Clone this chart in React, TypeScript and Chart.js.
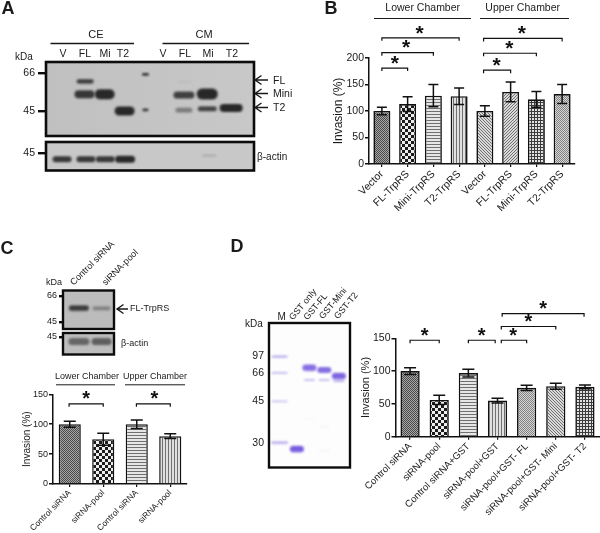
import React, { useEffect, useRef } from "react";
import { Chart, registerables } from "chart.js";

Chart.register(...registerables);

const FONT = '"Liberation Sans", Arial, sans-serif';
const INK = "#1a1a1a";

// ---------- Panel B data ----------
const bCategories = ["Vector", "FL-TrpRS", "Mini-TrpRS", "T2-TrpRS", "Vector", "FL-TrpRS", "Mini-TrpRS", "T2-TrpRS"];
const bValues = [100, 113, 129, 128, 100, 136, 122, 132];
const bErrors = [7, 14, 21, 15.5, 10, 18.5, 15, 18];
const bBrackets = [
  [0, 1, 181, 0.5], [0, 2, 210, 0.94], [0, 3, 238, 1.46],
  [3.95, 5, 177, 4.45], [3.95, 6, 209, 4.95], [3.95, 7, 237, 5.44],
];

// ---------- Panel C data ----------
const cCategories = ["Control siRNA", "siRNA-pool", "Control siRNA", "siRNA-pool"];
const cValues = [100, 75, 100, 80];
const cErrors = [5, 10, 7, 4];
const cBrackets = [[-0.02, 1, 134, 0.49], [1.99, 3, 134, 2.53]];

// ---------- Panel D data ----------
const dCategories = [
  "Control siRNA", "siRNA-pool", "Control siRNA+GST", "siRNA-pool+GST",
  "siRNA-pool+GST- FL", "siRNA-pool+GST- Mini", "siRNA-pool+GST- T2",
];
const dValues = [100, 56, 97, 55, 74.5, 77, 76];
const dErrors = [5, 7, 6, 3.5, 4, 4.5, 3];
const dBrackets = [
  [0, 1, 147, 0.5], [2, 2.92, 147, 2.46], [3.13, 4, 147, 3.54],
  [3.13, 5, 168, 4.06], [3.16, 5.97, 187.5, 4.57],
];

// ---------- Blot A data (lane, kDa, darkness) ----------
const aLanes = [2.03, 2.0, 2.97, 3.93, 4.93, 4.93, 6.8, 6.78, 7.9, 6.78, 7.9, 9.05];
const aKda = [60.6, 53.3, 53.3, 45, 65.1, 45.4, 60.6, 52.9, 53.5, 45.4, 46, 46.4];
const aDark = [0.85, 0.9, 1, 1, 1, 1, 0.06, 0.85, 1, 0.45, 0.82, 1];
const aWide = [17, 20, 20, 20, 7, 6, 14, 21, 21, 17, 19, 23];
const aTall = [4.5, 8, 10, 9, 2.5, 2.5, 2, 7, 11, 5, 5, 8];
const aActinLanes = [0.92, 2.07, 3.0, 3.95, 8.0];
const aActinKda = [42.2, 42.2, 42.2, 42.2, 43.8];
const aActinDark = [0.9, 0.9, 0.9, 1, 0.18];
const aActinWide = [19, 19, 19, 20, 14];
const aActinTall = [6, 6, 6, 7, 2];

// ---------- Blot C data ----------
const cBlotLanes = [1, 2];
const cBlotKda = [55, 55];
const cBlotDark = [0.9, 0.4];
const cBlotWide = [20, 18];
const cBlotTall = [5.5, 4];
const cActinLanes = [1, 2];
const cActinKda = [42.1, 42.1];
const cActinDark = [0.6, 0.65];
const cActinWide = [21, 20];
const cActinTall = [7, 7];

// ---------- Gel D data (lane, migration, darkness) ----------
const gelMarkerLabels = ["97", "66", "45", "30"];
const gelMarkerMigration = [33.6, 50, 78.3, 120];
const gelLanes = [1, 1, 1, 1, 2.16, 3, 3, 4, 4, 4.98, 4.98, 3, 4, 3, 4];
const gelMigration = [33.6, 50, 78.3, 120, 126.3, 45, 57, 47, 57, 53.3, 58, 96, 103.3, 122.6, 127.6];
const gelDark = [0.5, 0.4, 0.3, 0.5, 0.9, 0.8, 0.35, 0.8, 0.35, 0.85, 0.45, 0.05, 0.08, 0.04, 0.1];
const gelWide = [16, 16, 16, 17, 14, 14, 11, 14, 11, 14, 11, 11, 11, 11, 11];
const gelTall = [2, 1.8, 2, 2.2, 6.5, 6.5, 2, 6, 2, 6.5, 2, 1, 1, 1, 1];

type Note = { t: string; x: number; y: number; size: number; align?: CanvasTextAlign; rot?: number; bold?: boolean };
type Seg = number[];
type Box = { left: number; top: number; right: number; bottom: number };

function tile(rows: string[], fg: string, bg: string): CanvasPattern {
  const c = document.createElement("canvas");
  c.width = rows[0].length;
  c.height = rows.length;
  const x = c.getContext("2d")!;
  rows.forEach((r, j) =>
    [...r].forEach((ch, i) => {
      x.fillStyle = ch === "#" ? fg : bg;
      x.fillRect(i, j, 1, 1);
    })
  );
  return x.createPattern(c, "repeat")!;
}

function hatchSet() {
  const fine = ["#.", ".#"];
  return {
    fineDark: tile(fine, "#4a4a4a", "#a6a6a6"),
    check: tile(["###...", "###...", "###...", "...###", "...###", "...###"], "#1c1c1c", "#eeeeee"),
    horiz: tile(["#", ".", "."], "#707070", "#e6e6e6"),
    vert: tile(["#.."], "#707070", "#e0e0e0"),
    diagA: tile(["#..", ".#.", "..#"], "#707070", "#dadada"),
    diagB: tile(["..#", ".#.", "#.."], "#707070", "#dadada"),
    grid: tile(["###", "#..", "#.."], "#3c3c3c", "#e2e2e2"),
    fineLight: tile(fine, "#828282", "#d6d6d6"),
  };
}

function drawNotes(ctx: CanvasRenderingContext2D, notes: Note[], segs: Seg[], arrows: Seg[]) {
  ctx.save();
  ctx.fillStyle = INK;
  ctx.strokeStyle = INK;
  for (const n of notes) {
    ctx.save();
    ctx.translate(n.x, n.y);
    if (n.rot) ctx.rotate((n.rot * Math.PI) / 180);
    ctx.font = `${n.bold ? "bold " : ""}${n.size}px ${FONT}`;
    ctx.textAlign = n.align ?? "center";
    ctx.textBaseline = "middle";
    ctx.fillText(n.t, 0, 0);
    ctx.restore();
  }
  for (const [x1, y1, x2, y2, w] of segs) {
    ctx.lineWidth = w ?? 1.5;
    ctx.beginPath();
    ctx.moveTo(x1, y1);
    ctx.lineTo(x2, y2);
    ctx.stroke();
  }
  for (const [x1, x2, y] of arrows) {
    ctx.lineWidth = 1.4;
    ctx.beginPath();
    ctx.moveTo(x2, y);
    ctx.lineTo(x1, y);
    ctx.moveTo(x1 + 6.5, y - 4.5);
    ctx.lineTo(x1, y);
    ctx.lineTo(x1 + 6.5, y + 4.5);
    ctx.stroke();
  }
  ctx.restore();
}

function makeBars(
  canvas: HTMLCanvasElement,
  box: Box,
  o: {
    labels: string[]; values: number[]; errors: number[]; brackets: number[][]; fills: CanvasPattern[];
    max: number; step: number; tickSize: number; xSize: number; titleSize: number; titleX: number;
    cap: number; notes: Note[]; segs: Seg[]; starSize: number; border: number;
  }
) {
  const annot = {
    id: "annot",
    afterDatasetsDraw(ch: any) {
      const ctx = ch.ctx as CanvasRenderingContext2D;
      const X = ch.scales.x;
      const Y = ch.scales.y;
      ctx.save();
      ctx.strokeStyle = "#111";
      ctx.lineWidth = 1.5;
      o.values.forEach((v, i) => {
        const x = X.getPixelForValue(i);
        const hi = Y.getPixelForValue(v + o.errors[i]);
        const lo = Y.getPixelForValue(v - o.errors[i]);
        ctx.beginPath();
        ctx.moveTo(x, hi);
        ctx.lineTo(x, lo);
        ctx.moveTo(x - o.cap, hi);
        ctx.lineTo(x + o.cap, hi);
        ctx.moveTo(x - o.cap, lo);
        ctx.lineTo(x + o.cap, lo);
        ctx.stroke();
      });
      ctx.lineWidth = 1.2;
      ctx.fillStyle = "#111";
      ctx.font = `bold ${o.starSize}px ${FONT}`;
      ctx.textAlign = "center";
      ctx.textBaseline = "middle";
      for (const [from, to, val, star] of o.brackets) {
        const a = X.getPixelForValue(from);
        const b = X.getPixelForValue(to);
        const y = Y.getPixelForValue(val);
        ctx.beginPath();
        ctx.moveTo(a, y + 3);
        ctx.lineTo(a, y);
        ctx.lineTo(b, y);
        ctx.lineTo(b, y + 3);
        ctx.stroke();
        ctx.fillText("*", X.getPixelForValue(star), y - 4);
      }
      ctx.restore();
      drawNotes(ctx, o.notes, o.segs, []);
    },
  };
  return new Chart(canvas, {
    type: "bar",
    data: {
      labels: o.labels,
      datasets: [{
        data: o.values,
        backgroundColor: o.fills,
        borderColor: "#111",
        borderWidth: o.border,
        barPercentage: 0.66,
        categoryPercentage: 1,
      }],
    },
    options: {
      responsive: false,
      animation: false,
      devicePixelRatio: 1,
      layout: { padding: { left: 0, top: box.top, right: 600 - box.right, bottom: 0 } },
      plugins: { legend: { display: false }, tooltip: { enabled: false }, title: { display: false } },
      scales: {
        x: {
          type: "category",
          offset: true,
          afterFit: (s: any) => { s.height = 533 - box.bottom; },
          grid: { drawOnChartArea: false, offset: false, color: "#111", lineWidth: 1.2, tickLength: 3 },
          border: { color: "#111", width: 1.5 },
          ticks: {
            autoSkip: false, minRotation: 45, maxRotation: 45, padding: 1, color: INK,
            font: { family: FONT, size: o.xSize },
          },
        },
        y: {
          min: 0,
          max: o.max,
          afterFit: (s: any) => { s.width = box.left; },
          grid: { drawOnChartArea: false, color: "#111", lineWidth: 1.5, tickLength: 4 },
          border: { color: "#111", width: 1.5 },
          ticks: { stepSize: o.step, padding: 1, color: INK, font: { family: FONT, size: o.tickSize } },
          title: {
            display: true,
            text: "Invasion (%)",
            color: INK,
            font: { family: FONT, size: o.titleSize },
            padding: { top: o.titleX - o.titleSize * 0.6, bottom: 0 },
          },
        },
      },
    },
    plugins: [annot],
  } as any);
}

function sprite(w: number, h: number, alpha: number, rgb: string) {
  const pad = 6;
  const c = document.createElement("canvas");
  c.width = Math.ceil(w + pad * 2);
  c.height = Math.ceil(h + pad * 2);
  const x = c.getContext("2d")!;
  x.filter = "blur(1.1px)";
  x.fillStyle = `rgba(${rgb},${alpha})`;
  x.beginPath();
  const r = Math.min(h / 2, w / 2);
  x.roundRect(pad, pad, w, h, r);
  x.fill();
  return c;
}

function makeBlot(
  canvas: HTMLCanvasElement,
  box: Box,
  o: {
    lanes: number[]; ys: number[]; dark: number[]; wide: number[]; tall: number[];
    xRange: [number, number]; yRange: [number, number]; log: boolean; reverse?: boolean;
    ticks: number[]; tickText?: (v: number) => string; tickLen: number; tickPad: number; tickSize: number;
    bg: string | [string, string]; rgb: string; frame: number;
    notes: Note[]; segs: Seg[]; arrows: Seg[];
  }
) {
  const deco = {
    id: "deco",
    beforeDatasetsDraw(ch: any) {
      const { ctx, chartArea: a } = ch;
      if (Array.isArray(o.bg)) {
        const g = ctx.createLinearGradient(a.left, 0, a.right, 0);
        g.addColorStop(0, o.bg[0]);
        g.addColorStop(1, o.bg[1]);
        ctx.fillStyle = g;
      } else ctx.fillStyle = o.bg;
      ctx.fillRect(a.left, a.top, a.right - a.left, a.bottom - a.top);
    },
    afterDatasetsDraw(ch: any) {
      const { ctx, chartArea: a } = ch;
      ctx.save();
      ctx.strokeStyle = "#0c0c0c";
      ctx.lineWidth = o.frame;
      ctx.strokeRect(a.left, a.top, a.right - a.left, a.bottom - a.top);
      ctx.restore();
      drawNotes(ctx, o.notes, o.segs, o.arrows);
    },
  };
  return new Chart(canvas, {
    type: "scatter",
    data: {
      datasets: [{
        data: o.lanes.map((l, i) => ({ x: l, y: o.ys[i] })),
        pointStyle: o.lanes.map((_, i) => sprite(o.wide[i], o.tall[i], o.dark[i], o.rgb)),
        pointRadius: 3,
        showLine: false,
      }],
    },
    options: {
      responsive: false,
      animation: false,
      devicePixelRatio: 1,
      layout: { padding: { left: 0, top: box.top, right: 600 - box.right, bottom: 533 - box.bottom } },
      plugins: { legend: { display: false }, tooltip: { enabled: false } },
      scales: {
        x: { type: "linear", display: false, min: o.xRange[0], max: o.xRange[1] },
        y: {
          type: o.log ? "logarithmic" : "linear",
          reverse: !!o.reverse,
          min: o.yRange[0],
          max: o.yRange[1],
          afterFit: (s: any) => { s.width = box.left; },
          afterBuildTicks: (s: any) => { s.ticks = o.ticks.map((value) => ({ value })); },
          border: { display: false },
          grid: {
            display: o.tickLen > 0, drawOnChartArea: false, color: "#0c0c0c", lineWidth: 2.4, tickLength: o.tickLen,
          },
          ticks: {
            autoSkip: false,
            padding: o.tickPad,
            color: INK,
            font: { family: FONT, size: o.tickSize },
            callback: (v: any) => (o.tickText ? o.tickText(Number(v)) : String(v)),
          },
        },
      },
    },
    plugins: [deco],
  } as any);
}

export default function App() {
  const hostRef = useRef<HTMLDivElement>(null);
  useEffect(() => {
    document.body.style.margin = "0";
    document.body.style.background = "#fff";
    const host = hostRef.current!;
    const mk = () => {
      const c = document.createElement("canvas");
      c.width = 600;
      c.height = 533;
      c.style.cssText = "position:absolute;left:0;top:0;width:600px;height:533px";
      host.appendChild(c);
      return c;
    };
    const h = hatchSet();
    const charts: Chart[] = [];

    // ---- Panel A ----
    charts.push(makeBlot(mk(), { left: 46, top: 62, right: 254, bottom: 136 }, {
      lanes: aLanes, ys: aKda, dark: aDark, wide: aWide, tall: aTall,
      xRange: [0.15, 10.15], yRange: [34.9, 74], log: true, ticks: [66, 45],
      tickLen: 8, tickPad: 3, tickSize: 10.5, bg: ["#c0c0c0", "#c8c8c8"], rgb: "40,40,40", frame: 2.6,
      notes: [
        { t: "A", x: 8, y: 9, size: 18, bold: true },
        { t: "CE", x: 96, y: 35, size: 11 },
        { t: "CM", x: 204, y: 35, size: 11 },
        ...["V", "FL", "Mi", "T2"].map((t, i) => ({ t, x: [63, 85, 105, 123][i], y: 54.5, size: 10.5 })),
        ...["V", "FL", "Mi", "T2"].map((t, i) => ({ t, x: [163, 185, 208, 232][i], y: 54.5, size: 10.5 })),
        { t: "kDa", x: 15, y: 57.5, size: 10, align: "left" as const },
        { t: "FL", x: 273, y: 81, size: 10.5, align: "left" as const },
        { t: "Mini", x: 273, y: 94, size: 10.5, align: "left" as const },
        { t: "T2", x: 273, y: 108, size: 10.5, align: "left" as const },
        { t: "β-actin", x: 257, y: 157, size: 10, align: "left" as const },
      ],
      segs: [[50.5, 43.5, 134, 43.5, 1.6], [162.5, 43.5, 249, 43.5, 1.6]],
      arrows: [[255, 268, 80], [255, 268, 93.5], [255, 268, 107.5]],
    }));
    charts.push(makeBlot(mk(), { left: 46, top: 142, right: 254, bottom: 170.5 }, {
      lanes: aActinLanes, ys: aActinKda, dark: aActinDark, wide: aActinWide, tall: aActinTall,
      xRange: [0.15, 10.15], yRange: [37.6, 50.3], log: true, ticks: [45],
      tickLen: 8, tickPad: 3, tickSize: 10.5, bg: "#c8c8c8", rgb: "40,40,40", frame: 2.6,
      notes: [], segs: [], arrows: [],
    }));

    // ---- Panel B ----
    charts.push(makeBars(mk(), { left: 369, top: 58, right: 575, bottom: 164 }, {
      labels: bCategories, values: bValues, errors: bErrors, brackets: bBrackets,
      fills: [h.fineDark, h.check, h.horiz, h.vert, h.diagA, h.diagB, h.grid, h.fineLight],
      max: 200, step: 50, tickSize: 10.5, xSize: 10.5, titleSize: 12, titleX: 339, cap: 5, starSize: 21, border: 1.6,
      notes: [
        { t: "B", x: 331, y: 9, size: 18, bold: true },
        { t: "Lower Chamber", x: 422.7, y: 8, size: 10.5 },
        { t: "Upper Chamber", x: 522.7, y: 8, size: 10.5 },
      ],
      segs: [[374, 18.5, 471, 18.5, 1.2], [480, 18.5, 569, 18.5, 1.2]],
    }));

    // ---- Panel C ----
    charts.push(makeBlot(mk(), { left: 63, top: 290.5, right: 114, bottom: 329 }, {
      lanes: cBlotLanes, ys: cBlotKda, dark: cBlotDark, wide: cBlotWide, tall: cBlotTall,
      xRange: [0.304, 2.548], yRange: [40.6, 71.5], log: true, ticks: [66, 45],
      tickLen: 4, tickPad: 2, tickSize: 9, bg: "#bcbcbc", rgb: "45,45,45", frame: 2.4,
      notes: [
        { t: "C", x: 7, y: 249.5, size: 18, bold: true },
        { t: "kDa", x: 46, y: 282.5, size: 9, align: "left" as const },
        { t: "Control siRNA", x: 72, y: 284, size: 9.2, align: "left" as const, rot: -45 },
        { t: "siRNA-pool", x: 104, y: 284, size: 9.2, align: "left" as const, rot: -45 },
        { t: "FL-TrpRS", x: 130, y: 309, size: 9, align: "left" as const },
        { t: "β-actin", x: 121, y: 344, size: 9, align: "left" as const },
      ],
      segs: [], arrows: [[117, 128, 309]],
    }));
    charts.push(makeBlot(mk(), { left: 63, top: 333, right: 114, bottom: 354.5 }, {
      lanes: cActinLanes, ys: cActinKda, dark: cActinDark, wide: cActinWide, tall: cActinTall,
      xRange: [0.304, 2.548], yRange: [34.8, 47.7], log: true, ticks: [45],
      tickLen: 4, tickPad: 2, tickSize: 9, bg: "#bdbdbd", rgb: "45,45,45", frame: 2.4,
      notes: [], segs: [], arrows: [],
    }));
    charts.push(makeBars(mk(), { left: 53, top: 394.3, right: 187, bottom: 484 }, {
      labels: cCategories, values: cValues, errors: cErrors, brackets: cBrackets,
      fills: [h.fineDark, h.check, h.horiz, h.vert],
      max: 150, step: 50, tickSize: 9, xSize: 8.5, titleSize: 10, titleX: 27, cap: 6, starSize: 20, border: 1.5,
      notes: [
        { t: "Lower Chamber", x: 87, y: 377, size: 9 },
        { t: "Upper Chamber", x: 155, y: 377, size: 9 },
      ],
      segs: [[56, 384.8, 115, 384.8, 1], [125, 384.8, 185, 384.8, 1]],
    }));

    // ---- Panel D ----
    charts.push(makeBlot(mk(), { left: 269, top: 323, right: 350, bottom: 467.5 }, {
      lanes: gelLanes, ys: gelMigration, dark: gelDark, wide: gelWide, tall: gelTall,
      xRange: [0.293, 5.73], yRange: [0, 144.5], log: false, reverse: true, ticks: gelMarkerMigration,
      tickText: (v) => gelMarkerLabels[gelMarkerMigration.indexOf(v)] ?? "",
      tickLen: 0, tickPad: 5, tickSize: 10.5, bg: "#fdfdfd", rgb: "105,75,220", frame: 2.4,
      notes: [
        { t: "D", x: 237, y: 247, size: 18, bold: true },
        { t: "kDa", x: 245, y: 324, size: 10, align: "left" as const },
        { t: "M", x: 281.7, y: 317, size: 10 },
        { t: "GST only", x: 291, y: 319, size: 9, align: "left" as const, rot: -50 },
        { t: "GST-FL", x: 305.5, y: 319, size: 9, align: "left" as const, rot: -50 },
        { t: "GST-Mini", x: 321, y: 318, size: 9, align: "left" as const, rot: -50 },
        { t: "GST-T2", x: 336, y: 318, size: 9, align: "left" as const, rot: -50 },
      ],
      segs: [], arrows: [],
    }));
    charts.push(makeBars(mk(), { left: 395.5, top: 338.3, right: 599.5, bottom: 436.7 }, {
      labels: dCategories, values: dValues, errors: dErrors, brackets: dBrackets,
      fills: [h.fineDark, h.check, h.horiz, h.vert, h.fineLight, h.diagA, h.grid],
      max: 150, step: 50, tickSize: 10.5, xSize: 9.7, titleSize: 11, titleX: 366, cap: 6, starSize: 20, border: 1.6,
      notes: [], segs: [],
    }));

    return () => {
      charts.forEach((c) => c.destroy());
      host.innerHTML = "";
    };
  }, []);
  return (
    <div
      ref={hostRef}
      style={{ position: "relative", width: 600, height: 533, overflow: "hidden", background: "#fff", filter: "blur(0.35px)" }}
    />
  );
}
